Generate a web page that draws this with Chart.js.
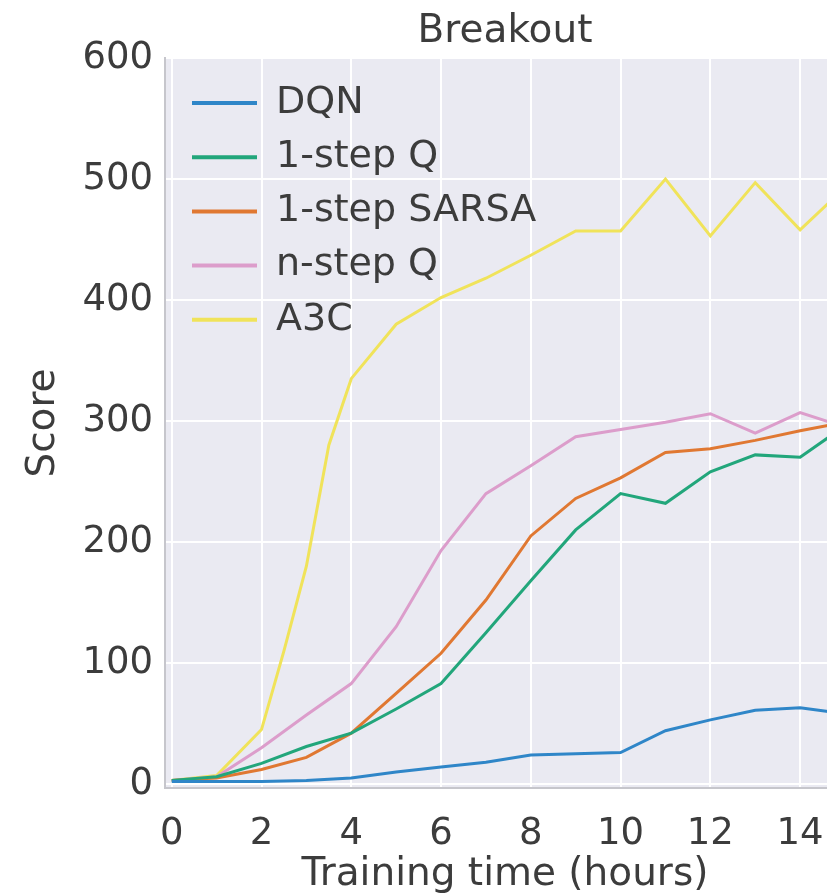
<!DOCTYPE html>
<html>
<head>
<meta charset="utf-8">
<script src="https://cdn.jsdelivr.net/npm/chart.js@4.4.1/dist/chart.umd.min.js"></script>
<style>
  html, body { margin: 0; padding: 0; background: #fff; overflow: hidden; }
  #wrap { width: 1010px; height: 910px; }
</style>
</head>
<body>
<div id="wrap"><canvas id="breakoutChart" width="1010" height="910"></canvas></div>
<script>
// Training hours and scores
const hours = [0, 1, 2, 3, 4, 5, 6, 7, 8, 9, 10, 11, 12, 13, 14, 15];
const dqn = [2, 2, 2, 3, 5, 10, 14, 18, 24, 25, 26, 44, 53, 61, 63, 58];
const oneStepQ = [3, 6, 17, 31, 42, 62, 83, 125, 168, 210, 240, 232, 258, 272, 270, 296];
const oneStepSarsa = [3, 5, 12, 22, 42, 75, 108, 152, 205, 236, 253, 274, 277, 284, 292, 299];
const nStepQ = [3, 6, 30, 57, 83, 130, 193, 240, 263, 287, 293, 299, 306, 290, 307, 295];
const a3cHours = [0, 1, 2, 2.5, 3, 3.5, 4, 5, 6, 7, 8, 9, 10, 11, 12, 13, 14, 15];
const a3c = [3, 7, 45, 110, 180, 280, 335, 380, 402, 418, 437, 457, 457, 500, 453, 497, 458, 493];

const xTicks = [0, 2, 4, 6, 8, 10, 12, 14];
const yTicks = [0, 100, 200, 300, 400, 500, 600];

const toPoints = (xs, ys) => xs.map((x, i) => ({ x: x, y: ys[i] }));

const series = [
    { label: 'DQN', data: toPoints(hours, dqn), color: '#2f86c8' },
    { label: '1-step Q', data: toPoints(hours, oneStepQ), color: '#22a67b' },
    { label: '1-step SARSA', data: toPoints(hours, oneStepSarsa), color: '#e07832' },
    { label: 'n-step Q', data: toPoints(hours, nStepQ), color: '#dc9dcb' },
    { label: 'A3C', data: toPoints(a3cHours, a3c), color: '#f0e35a' }
];

const textColor = '#3c3c3c';

// grey plot face, title and the in-axes legend
const seabornLook = {
    id: 'seabornLook',
    beforeDraw(chart) {
        const { ctx, chartArea: a } = chart;
        ctx.save();
        ctx.fillStyle = '#eaeaf2';
        ctx.fillRect(a.left, a.top, a.right - a.left, a.bottom - a.top);
        ctx.restore();
    },
    afterDatasetsDraw(chart) {
        const { ctx, chartArea: a } = chart;
        ctx.save();
        ctx.fillStyle = textColor;
        ctx.font = '39px "DejaVu Sans"';
        ctx.textAlign = 'center';
        ctx.textBaseline = 'middle';
        ctx.fillText('Breakout', (a.left + a.right) / 2, 32);

        ctx.font = '38px "DejaVu Sans"';
        ctx.textAlign = 'left';
        chart.data.datasets.forEach((ds, i) => {
            const y = 103 + i * 54.2;
            ctx.strokeStyle = ds.borderColor;
            ctx.lineWidth = 4;
            ctx.beginPath();
            ctx.moveTo(a.left + 27, y);
            ctx.lineTo(a.left + 92, y);
            ctx.stroke();
            ctx.fillText(ds.label, a.left + 111, y);
        });
        ctx.restore();
    }
};

const ctx = document.getElementById('breakoutChart').getContext('2d');
const breakoutChart = new Chart(ctx, {
    type: 'line',
    data: {
        datasets: series.map(s => ({
            label: s.label,
            data: s.data,
            borderColor: s.color,
            backgroundColor: s.color,
            borderWidth: 3,
            pointRadius: 0,
            tension: 0,
            fill: false
        }))
    },
    options: {
        responsive: false,
        animation: false,
        devicePixelRatio: 1,
        layout: { padding: { top: 58, left: 0, right: 165, bottom: 0 } },
        plugins: {
            legend: { display: false },
            tooltip: { enabled: false }
        },
        scales: {
            x: {
                type: 'linear',
                min: -0.15,
                max: 15,
                afterFit(scale) { scale.height = 122; },
                afterBuildTicks(scale) { scale.ticks = xTicks.map(v => ({ value: v })); },
                ticks: {
                    color: textColor,
                    font: { family: 'DejaVu Sans', size: 37 },
                    padding: 24,
                    maxRotation: 0
                },
                grid: { color: '#ffffff', lineWidth: 2, drawTicks: false },
                border: { display: true, color: '#c6c6cc', width: 2 },
                title: {
                    display: true,
                    text: 'Training time (hours)',
                    color: textColor,
                    font: { family: 'DejaVu Sans', size: 39 },
                    padding: { top: 0, bottom: 12 }
                }
            },
            y: {
                min: -3.3,
                max: 600,
                afterFit(scale) { scale.width = 165; },
                afterBuildTicks(scale) { scale.ticks = yTicks.map(v => ({ value: v })); },
                ticks: {
                    color: textColor,
                    font: { family: 'DejaVu Sans', size: 37 },
                    padding: 12
                },
                grid: { color: '#ffffff', lineWidth: 2, drawTicks: false },
                border: { display: true, color: '#c6c6cc', width: 2 },
                title: {
                    display: true,
                    text: 'Score',
                    color: textColor,
                    font: { family: 'DejaVu Sans', size: 39 },
                    padding: { top: 20, bottom: 0 }
                }
            }
        }
    },
    plugins: [seabornLook]
});
</script>
</body>
</html>
